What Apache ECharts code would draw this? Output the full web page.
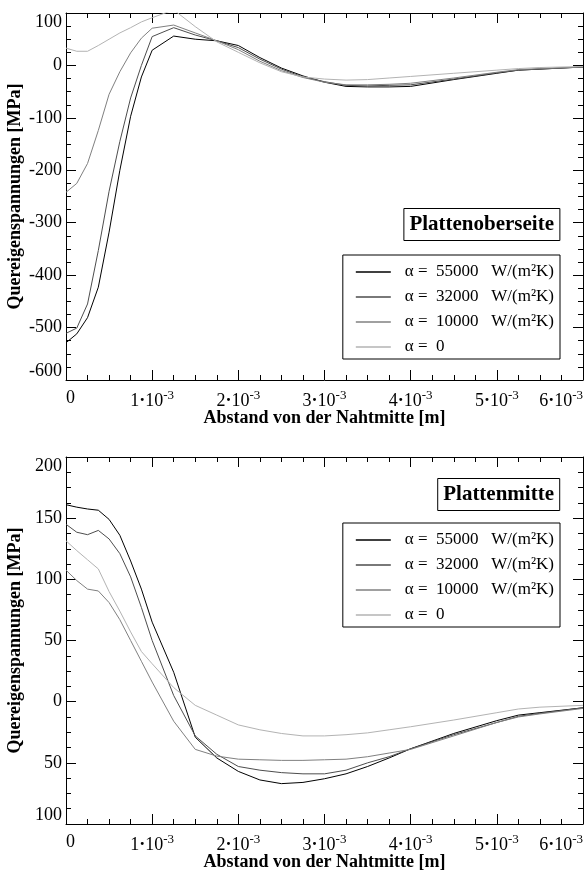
<!DOCTYPE html>
<html>
<head>
<meta charset="utf-8">
<title>Quereigenspannungen</title>
<script src="https://cdn.jsdelivr.net/npm/echarts@6/dist/echarts.min.js"></script>
<style>
  html, body { margin: 0; padding: 0; background: #fff; }
  #main { width: 585px; height: 871px; }
</style>
</head>
<body>
<div id="main"></div>
<script>
// Abstand von der Nahtmitte, in 10^-3 m
var abstand = [0, 0.125, 0.25, 0.375, 0.5, 0.625, 0.75, 0.875, 1.0, 1.25, 1.5, 1.75, 2.0,
               2.25, 2.5, 2.75, 3.0, 3.25, 3.5, 3.75, 4.0, 4.5, 5.0, 5.25, 5.5, 6.0];

var namen  = ['α =  55000   W/(m²K)', 'α =  32000   W/(m²K)', 'α =  10000   W/(m²K)', 'α =  0'];
var farben = ['#000000', '#4d4d4d', '#808080', '#b3b3b3'];

// Plattenoberseite [MPa]
var oben55000 = [-529, -512, -481, -423, -318, -200, -97, -22, 29, 56, 50, 47, 38,
                 15, -5, -20, -32, -40, -41, -41, -40, -27, -15, -9, -7, -3];
var oben32000 = [-511, -501, -455, -353, -240, -145, -62, 0, 55, 72, 58, 47, 34,
                 12, -7, -22, -31, -38, -39, -38, -37, -26, -14, -9, -7, -3];
var oben10000 = [-242, -225, -187, -124, -55, -12, 24, 52, 71, 77, 62, 47, 30,
                 8, -10, -23, -32, -37, -37, -36, -34, -24, -13, -8, -6, -3];
var oben0     = [33, 27, 27, 38, 50, 62, 72, 83, 91, 106, 74, 45, 25,
                 5, -12, -22, -26, -28, -27, -24, -21, -15, -9, -6, -4, -2];

// Plattenmitte [MPa]
var mitte55000 = [161, 159, 157.5, 156.5, 149, 136, 115, 92, 65, 24, -29, -46, -57,
                  -64, -67, -66, -63, -59, -53, -46, -38.5, -26, -15.5, -11, -9, -5];
var mitte32000 = [145, 138.5, 136.5, 140, 133, 121, 102, 77, 50, 5, -28, -43, -53,
                  -56, -58, -59, -59, -56, -50, -45, -38.5, -27, -17, -12, -9.5, -5];
var mitte10000 = [107.5, 99, 92, 90.5, 81, 67, 50, 33, 16, -16, -39, -44.5, -47,
                  -47.5, -48, -48, -47.5, -47, -45, -42, -39, -28, -17, -12.5, -10, -5.5];
var mitte0     = [131.5, 123.5, 116, 108.5, 90, 74, 57, 41, 31, 11.5, -3, -11, -19,
                  -23, -26, -28, -28, -27, -25.5, -23, -20.5, -15, -9, -6, -4.5, -3];

var schrift = "'Liberation Serif', 'DejaVu Serif', serif";

function paare(werte) {
  return abstand.map(function (x, i) { return [x, werte[i]]; });
}

function xAchse(grid, pos) {
  var unten = pos === 'bottom';
  return {
    type: 'value', gridIndex: grid, position: pos,
    min: 0, max: 6, interval: 1,
    name: unten ? 'Abstand von der Nahtmitte [m]' : '',
    nameLocation: 'middle', nameGap: 29, nameMoveOverlap: false,
    nameTextStyle: { fontFamily: schrift, fontWeight: 'bold', fontSize: 18, color: '#000' },
    axisLine: { show: true, onZero: false, lineStyle: { color: '#000', width: 1 } },
    axisTick: { show: true, inside: true, length: 10, lineStyle: { color: '#000' } },
    minorTick: { show: true, splitNumber: 4, length: 5, lineStyle: { color: '#000' } },
    splitLine: { show: false },
    axisLabel: {
      show: unten, margin: 9, color: '#000', fontFamily: schrift, fontSize: 18,
      showMinLabel: true, showMaxLabel: true,
      alignMinLabel: 'left', alignMaxLabel: 'right',
      formatter: function (v) { return v === 0 ? '0' : v + '{dot|·}10{sup|-3}'; },
      rich: {
        dot: { fontFamily: schrift, fontSize: 18, fontWeight: 'bold', color: '#000' },
        sup: { fontFamily: schrift, fontSize: 13, color: '#000', padding: [0, 0, 12, 0] }
      }
    }
  };
}

function yAchse(grid, pos, min, max, step, fmt) {
  var links = pos === 'left';
  return {
    type: 'value', gridIndex: grid, position: pos,
    min: min, max: max, interval: step,
    name: links ? 'Quereigenspannungen [MPa]' : '',
    nameLocation: 'middle', nameGap: 42, nameMoveOverlap: false,
    nameTextStyle: { fontFamily: schrift, fontWeight: 'bold', fontSize: 18, color: '#000' },
    axisLine: { show: true, onZero: false, lineStyle: { color: '#000', width: 1 } },
    axisTick: { show: true, inside: true, length: 10, lineStyle: { color: '#000' } },
    minorTick: { show: true, splitNumber: 4, length: 5, lineStyle: { color: '#000' } },
    splitLine: { show: false },
    axisLabel: {
      show: links, margin: 4, color: '#000', fontFamily: schrift, fontSize: 18,
      showMinLabel: true, showMaxLabel: true,
      verticalAlignMinLabel: 'bottom', verticalAlignMaxLabel: 'top',
      formatter: fmt
    }
  };
}

function linie(name, farbe, werte, achse) {
  return {
    name: name, type: 'line', xAxisIndex: achse, yAxisIndex: achse,
    data: paare(werte), symbol: 'none', showSymbol: false, clip: true,
    lineStyle: { color: farbe, width: 1 }, itemStyle: { color: farbe },
    emphasis: { disabled: true }, animation: false
  };
}

function legende(oben) {
  return {
    data: namen, orient: 'vertical', right: 25, top: oben,
    icon: 'rect', itemWidth: 35, itemHeight: 1.4, itemGap: 5,
    padding: [7, 6, 2, 13], borderColor: '#000', borderWidth: 1,
    selectedMode: false,
    textStyle: { fontFamily: schrift, fontSize: 17, lineHeight: 20, color: '#000',
                 padding: [0, 0, 0, 9] }
  };
}

function titel(text, oben) {
  return {
    text: text, right: 25, top: oben, padding: [6, 6, 5, 6],
    borderColor: '#000', borderWidth: 1,
    textStyle: { fontFamily: schrift, fontWeight: 'bold', fontSize: 21, lineHeight: 22, color: '#000' }
  };
}

var chart = echarts.init(document.getElementById('main'));
chart.setOption({
  backgroundColor: '#fff',
  animation: false,
  title: [titel('Plattenoberseite', 208), titel('Plattenmitte', 478)],
  legend: [legende(255), legende(523)],
  grid: [
    { left: 66, top: 13, width: 517, height: 367, outerBoundsMode: 'none', containLabel: false },
    { left: 66, top: 457, width: 517, height: 367, outerBoundsMode: 'none', containLabel: false }
  ],
  xAxis: [xAchse(0, 'bottom'), xAchse(1, 'bottom'), xAchse(0, 'top'), xAchse(1, 'top')],
  yAxis: [
    yAchse(0, 'left', -600, 100, 100),
    yAchse(1, 'left', -100, 200, 50, function (v) { return String(Math.abs(v)); }),
    yAchse(0, 'right', -600, 100, 100),
    yAchse(1, 'right', -100, 200, 50)
  ],
  series: [
    linie(namen[0], farben[0], oben55000, 0),
    linie(namen[1], farben[1], oben32000, 0),
    linie(namen[2], farben[2], oben10000, 0),
    linie(namen[3], farben[3], oben0, 0),
    linie(namen[0], farben[0], mitte55000, 1),
    linie(namen[1], farben[1], mitte32000, 1),
    linie(namen[2], farben[2], mitte10000, 1),
    linie(namen[3], farben[3], mitte0, 1)
  ]
});
</script>
</body>
</html>
